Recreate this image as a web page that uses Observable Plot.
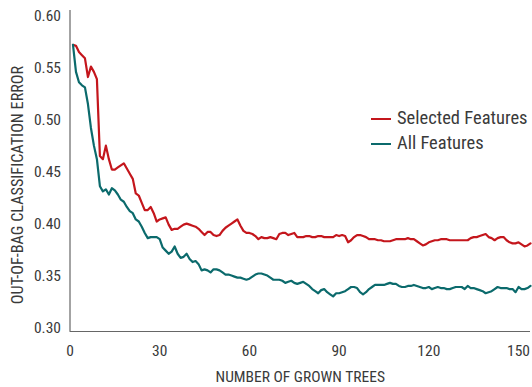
<!DOCTYPE html>
<html>
<head>
<meta charset="utf-8">
<script src="https://cdn.jsdelivr.net/npm/d3@7"></script>
<script src="https://cdn.jsdelivr.net/npm/@observablehq/plot@0.6"></script>
<style>
  html, body { margin: 0; padding: 0; background: #fff; }
  #wrap { position: relative; width: 532px; height: 387px; }
  .legend { position: absolute; left: 371px; top: 106px; font-family: "Liberation Sans Narrow", "Arial Narrow", "Roboto Condensed", sans-serif; font-size: 18.5px; color: #3a3a3a; line-height: 25px; }
  .legend div { display: flex; align-items: center; white-space: nowrap; }
  .legend span.sw { display: inline-block; width: 20px; height: 2px; margin-right: 6px; }
</style>
</head>
<body>
<div id="wrap"></div>
<script>
const seriesNames = ["Selected Features", "All Features"];
const seriesColors = ["#c4161c", "#0b6a6c"];
const xTicks = [0, 30, 60, 90, 120, 150];
const yTicks = [0.30, 0.35, 0.40, 0.45, 0.50, 0.55, 0.60];
const xTitle = "NUMBER OF GROWN TREES";
const yTitle = "OUT-OF-BAG CLASSIFICATION ERROR";

// number of grown trees: 1..154
const selectedError = [
  0.572, 0.571, 0.565, 0.562, 0.559, 0.541, 0.551, 0.546, 0.539, 0.465,
  0.462, 0.475, 0.462, 0.452, 0.452, 0.454, 0.456, 0.458, 0.453, 0.448,
  0.443, 0.429, 0.427, 0.420, 0.413, 0.413, 0.416, 0.410, 0.402, 0.404,
  0.405, 0.406, 0.399, 0.394, 0.395, 0.395, 0.397, 0.399, 0.400, 0.399,
  0.398, 0.397, 0.395, 0.392, 0.389, 0.392, 0.392, 0.389, 0.388, 0.389,
  0.393, 0.396, 0.398, 0.400, 0.402, 0.404, 0.398, 0.393, 0.391, 0.391,
  0.390, 0.388, 0.385, 0.387, 0.386, 0.386, 0.387, 0.386, 0.385, 0.390,
  0.391, 0.391, 0.389, 0.390, 0.391, 0.387, 0.387, 0.387, 0.388, 0.388,
  0.387, 0.387, 0.388, 0.388, 0.387, 0.387, 0.387, 0.387, 0.389, 0.388,
  0.389, 0.388, 0.382, 0.384, 0.387, 0.389, 0.389, 0.388, 0.387, 0.385,
  0.385, 0.385, 0.384, 0.384, 0.383, 0.383, 0.383, 0.384, 0.385, 0.385,
  0.385, 0.385, 0.386, 0.385, 0.385, 0.383, 0.381, 0.379, 0.380, 0.382,
  0.383, 0.384, 0.384, 0.385, 0.385, 0.385, 0.384, 0.384, 0.384, 0.384,
  0.384, 0.384, 0.384, 0.386, 0.387, 0.387, 0.388, 0.389, 0.390, 0.387,
  0.386, 0.384, 0.386, 0.387, 0.387, 0.384, 0.382, 0.381, 0.381, 0.382,
  0.380, 0.378, 0.379, 0.381
];
const allError = [
  0.572, 0.546, 0.536, 0.533, 0.531, 0.515, 0.492, 0.475, 0.462, 0.436,
  0.431, 0.433, 0.428, 0.434, 0.432, 0.428, 0.423, 0.421, 0.416, 0.412,
  0.410, 0.404, 0.402, 0.397, 0.391, 0.386, 0.387, 0.387, 0.387, 0.385,
  0.377, 0.374, 0.371, 0.373, 0.378, 0.371, 0.367, 0.368, 0.371, 0.366,
  0.363, 0.364, 0.361, 0.355, 0.356, 0.355, 0.353, 0.356, 0.356, 0.355,
  0.353, 0.351, 0.351, 0.350, 0.349, 0.348, 0.348, 0.347, 0.346, 0.347,
  0.349, 0.351, 0.352, 0.352, 0.351, 0.350, 0.348, 0.346, 0.346, 0.346,
  0.345, 0.343, 0.344, 0.345, 0.343, 0.342, 0.343, 0.344, 0.342, 0.340,
  0.337, 0.335, 0.333, 0.336, 0.337, 0.334, 0.332, 0.330, 0.333, 0.333,
  0.334, 0.335, 0.337, 0.339, 0.339, 0.338, 0.334, 0.332, 0.334, 0.337,
  0.339, 0.341, 0.341, 0.341, 0.341, 0.342, 0.343, 0.342, 0.342, 0.340,
  0.339, 0.339, 0.340, 0.340, 0.341, 0.340, 0.339, 0.338, 0.338, 0.339,
  0.337, 0.338, 0.339, 0.338, 0.338, 0.337, 0.337, 0.338, 0.339, 0.339,
  0.339, 0.337, 0.340, 0.338, 0.338, 0.337, 0.336, 0.335, 0.333, 0.334,
  0.335, 0.337, 0.339, 0.338, 0.338, 0.338, 0.337, 0.337, 0.334, 0.339,
  0.337, 0.337, 0.338, 0.340
];
const trees = selectedError.map((_, i) => i + 1);

const data = [];
trees.forEach((t, i) => {
  data.push({trees: t, error: selectedError[i], series: seriesNames[0]});
  data.push({trees: t, error: allError[i], series: seriesNames[1]});
});

const xDomain = [0, 154];
const yDomain = [0.2962, 0.605];
const font = '"Liberation Sans Narrow", "Arial Narrow", "Roboto Condensed", sans-serif';

const chart = Plot.plot({
  width: 532,
  height: 387,
  marginLeft: 69.5,
  marginRight: 2,
  marginTop: 10,
  marginBottom: 56,
  style: {fontFamily: font, fontSize: "15.5px", color: "#3a3a3a", background: "#fff"},
  x: {domain: xDomain},
  y: {domain: yDomain},
  color: {domain: seriesNames, range: seriesColors},
  marks: [
    Plot.axisX({ticks: xTicks, tickSize: 0, tickPadding: 13, tickFormat: d => String(d),
      label: xTitle, labelAnchor: "center", labelArrow: "none", labelOffset: 50, fontSize: 15.5}),
    Plot.axisY({ticks: yTicks, tickSize: 0, tickPadding: 9, tickFormat: d3.format(".2f"),
      label: null, fontSize: 15.5}),
    Plot.text([yTitle], {frameAnchor: "left", text: d => d, rotate: -90, textAnchor: "middle",
      dx: -52, dy: 14, fontSize: 16.2, fill: "#3a3a3a"}),
    Plot.ruleX([xDomain[0]], {stroke: "#666", strokeWidth: 1.2}),
    Plot.ruleY([yDomain[0]], {stroke: "#666", strokeWidth: 1.2}),
    Plot.line(data, {x: "trees", y: "error", stroke: "series", strokeWidth: 2.2, strokeLinejoin: "round"})
  ]
});

const wrap = document.getElementById("wrap");
wrap.appendChild(chart);
const legend = document.createElement("div");
legend.className = "legend";
seriesNames.forEach((name, i) => {
  const row = document.createElement("div");
  const sw = document.createElement("span");
  sw.className = "sw";
  sw.style.background = seriesColors[i];
  row.appendChild(sw);
  row.appendChild(document.createTextNode(name));
  legend.appendChild(row);
});
wrap.appendChild(legend);
</script>
</body>
</html>
